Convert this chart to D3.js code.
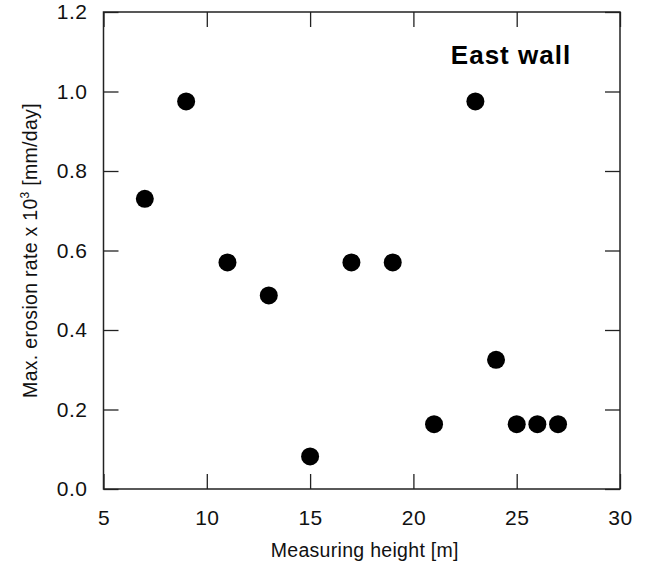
<!DOCTYPE html>
<html>
<head>
<meta charset="utf-8">
<script src="https://cdn.jsdelivr.net/npm/d3@7"></script>
<style>
  html,body{margin:0;padding:0;background:#fff;}
  svg{display:block;font-family:Arial,"Liberation Sans",sans-serif;}
</style>
</head>
<body>
<svg id="chart" width="647" height="569"></svg>
<script>
// measuring heights [m] and max erosion rate x 10^3 [mm/day]
const heights = [7, 9, 11, 13, 15, 17, 19, 21, 23, 24, 25, 26, 27];
const rates   = [0.73, 0.975, 0.57, 0.487, 0.082, 0.57, 0.57, 0.163, 0.975, 0.325, 0.163, 0.163, 0.163];
const xTicks  = [5, 10, 15, 20, 25, 30];
const yTicks  = [0.0, 0.2, 0.4, 0.6, 0.8, 1.0, 1.2];

const L = 103.5, R = 620, T = 12, B = 489;
const TICK = 15;

const svg = d3.select("#chart");
const x = d3.scaleLinear().domain([5, 30]).range([L, R]);
const y = d3.scaleLinear().domain([0, 1.2]).range([B, T]);

const styleAxis = g => {
  g.select(".domain").remove();
  g.selectAll("line").attr("stroke", "#222").attr("stroke-width", 1.3);
};

// bottom & left with labels
svg.append("g").attr("transform", `translate(0,${B})`)
  .call(d3.axisBottom(x).tickValues(xTicks).tickSize(-TICK).tickPadding(21).tickFormat(d3.format("d")))
  .call(styleAxis)
  .call(g => g.selectAll("text").attr("fill", "#111").style("font-size", "21px").style("letter-spacing", "0.5px"));

svg.append("g").attr("transform", `translate(${L},0)`)
  .call(d3.axisLeft(y).tickValues(yTicks).tickSize(-TICK).tickPadding(16).tickFormat(d3.format(".1f")))
  .call(styleAxis)
  .call(g => g.selectAll("text").attr("fill", "#111").style("font-size", "21px").style("letter-spacing", "0.5px"));

// top & right mirrored ticks
svg.append("g").attr("transform", `translate(0,${T})`)
  .call(d3.axisTop(x).tickValues(xTicks).tickSize(-TICK).tickFormat(""))
  .call(styleAxis);
svg.append("g").attr("transform", `translate(${R},0)`)
  .call(d3.axisRight(y).tickValues(yTicks).tickSize(-TICK).tickFormat(""))
  .call(styleAxis);

// frame
svg.append("rect").attr("x", L).attr("y", T).attr("width", R - L).attr("height", B - T)
  .attr("fill", "none").attr("stroke", "#222").attr("stroke-width", 1.5);

// points
svg.selectAll("circle.pt").data(heights).join("circle").attr("class", "pt")
  .attr("cx", d => x(d)).attr("cy", (d, i) => y(rates[i]))
  .attr("r", 9).attr("fill", "#000");

// label
svg.append("text").attr("x", 511).attr("y", 64).attr("text-anchor", "middle")
  .attr("fill", "#000").style("font-size", "26px").style("font-weight", "bold")
  .style("letter-spacing", "1px")
  .text("East wall");

// axis titles
svg.append("text").attr("x", (L + R) / 2 + 3).attr("y", 557).attr("text-anchor", "middle")
  .attr("fill", "#111").style("font-size", "19.5px").style("letter-spacing", "0.3px")
  .text("Measuring height [m]");

const yt = svg.append("text")
  .attr("transform", `translate(37,${(T + B) / 2}) rotate(-90)`)
  .attr("text-anchor", "middle").attr("fill", "#111").style("font-size", "19.5px")
  .style("letter-spacing", "0.3px");
yt.append("tspan").text("Max. erosion rate x 10");
yt.append("tspan").attr("dy", -8).style("font-size", "12px").text("3");
yt.append("tspan").attr("dy", 8).text(" [mm/day]");
</script>
</body>
</html>
